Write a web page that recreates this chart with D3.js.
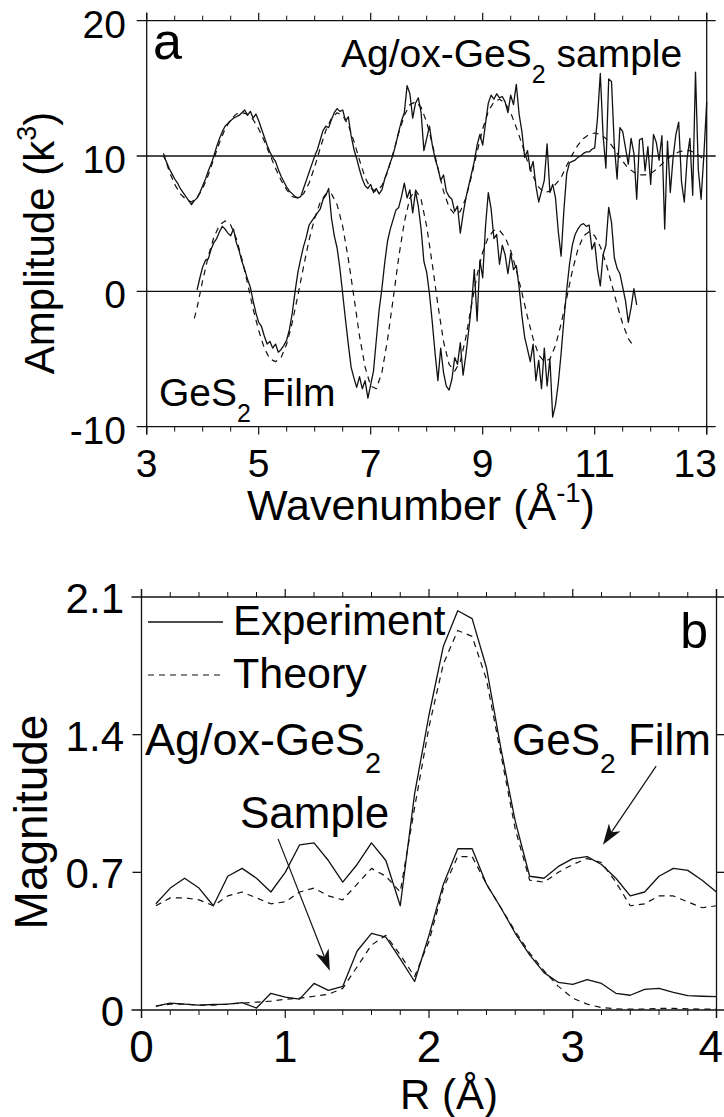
<!DOCTYPE html>
<html>
<head>
<meta charset="utf-8">
<script src="https://cdn.jsdelivr.net/npm/d3@7"></script>
<style>
  body { margin: 0; background: #fff; }
  svg { display: block; }
  text { font-family: "Liberation Sans", Arial, Helvetica, sans-serif; fill: #000; }
</style>
</head>
<body>
<svg id="chart"></svg>
<script>
// ---------- panel a data : chi(k) * k^3 ----------
// Ag/ox-GeS2 sample, experiment (plotted with +10 offset)
var kSampleExp = [3.30,3.35,3.40,3.45,3.50,3.55,3.60,3.65,3.70,3.75,3.80,3.85,3.90,3.95,4.00,4.05,4.10,4.15,4.20,4.25,
  4.30,4.35,4.40,4.45,4.50,4.55,4.60,4.65,4.70,4.75,4.80,4.85,4.90,4.95,5.00,5.05,5.10,5.15,5.20,5.25,
  5.30,5.35,5.40,5.45,5.50,5.55,5.60,5.65,5.70,5.75,5.80,5.85,5.90,5.95,6.00,6.05,6.10,6.15,6.20,6.25,
  6.30,6.35,6.40,6.45,6.50,6.55,6.60,6.65,6.70,6.75,6.80,6.85,6.90,6.95,7.00,7.05,7.10,7.15,7.20,7.25,
  7.30,7.35,7.40,7.45,7.50,7.55,7.60,7.65,7.70,7.75,7.80,7.85,7.90,7.95,8.00,8.05,8.10,8.15,8.20,8.25,
  8.30,8.35,8.40,8.45,8.50,8.55,8.60,8.65,8.70,8.75,8.80,8.85,8.90,8.95,9.00,9.05,9.10,9.15,9.20,9.25,
  9.30,9.35,9.40,9.45,9.50,9.55,9.60,9.65,9.70,9.75,9.80,9.85,9.90,9.95,10.00,10.05,10.10,10.15,10.20,10.25,
  10.30,10.35,10.40,10.45,10.50,10.55,10.60,10.65,10.70,10.75,10.80,10.85,10.90,10.95,11.00,11.05,11.10,11.15,11.20,11.25,
  11.30,11.35,11.40,11.45,11.50,11.55,11.60,11.65,11.70,11.75,11.80,11.85,11.90,11.95,12.00,12.05,12.10,12.15,12.20,12.25,
  12.30,12.35,12.40,12.45,12.50,12.55,12.60,12.65,12.70,12.75,12.80,12.85,12.90,12.95,13.00];
var ampSampleExp = [10.0,9.6,9.1,8.7,8.3,8.0,7.6,7.3,7.0,6.7,6.4,6.7,6.9,7.3,7.8,8.3,8.9,9.4,10.0,10.7,
  11.3,11.8,12.2,12.4,12.6,12.8,12.9,13.0,13.2,13.4,13.0,13.3,12.8,13.1,12.6,12.0,11.4,10.8,10.3,9.9,
  9.6,9.0,8.5,8.1,7.7,7.4,7.2,7.0,6.9,7.0,7.6,8.2,8.8,9.4,10.0,10.5,11.2,11.9,12.2,12.1,
  12.7,13.2,13.5,13.3,13.4,12.6,12.9,11.5,10.5,9.8,9.0,8.3,7.8,7.6,7.9,7.3,7.6,7.2,7.5,8.3,
  8.9,9.5,10.1,10.9,11.8,12.6,13.2,15.2,14.6,12.8,13.9,14.3,13.2,10.4,11.3,12.2,10.8,9.8,9.1,8.2,
  8.6,7.4,7.0,6.8,5.9,6.3,4.3,5.7,6.9,7.8,8.7,9.6,10.8,11.6,10.8,12.4,13.9,14.5,14.2,14.6,
  14.3,14.4,14.0,13.2,14.5,13.8,15.3,13.1,11.8,9.9,10.4,8.9,9.6,7.8,6.6,7.4,8.2,10.9,7.3,7.9,
  6.9,4.4,2.6,6.0,8.7,9.5,9.6,9.7,9.9,10.0,10.2,10.3,10.3,10.5,10.6,12.8,16.1,11.5,9.1,15.7,
  15.5,10.8,8.3,12.1,11.8,10.6,9.4,11.3,10.2,6.8,11.2,11.3,8.9,10.7,7.9,11.6,11.0,9.7,11.5,4.6,
  11.1,7.3,9.9,11.6,12.5,8.1,6.6,9.8,11.3,7.1,16.2,9.0,6.8,10.1,14.0];

// Ag/ox-GeS2 sample, theory (plotted with +10 offset)
var kSampleFit = [3.3,3.4,3.5,3.6,3.7,3.8,3.9,4.0,4.1,4.2,4.3,4.4,4.5,4.6,4.7,4.8,4.9,5.0,5.1,5.2,
  5.3,5.4,5.5,5.6,5.7,5.8,5.9,6.0,6.1,6.2,6.3,6.4,6.5,6.6,6.7,6.8,6.9,7.0,7.1,7.2,
  7.3,7.4,7.5,7.6,7.7,7.8,7.9,8.0,8.1,8.2,8.3,8.4,8.5,8.6,8.7,8.8,8.9,9.0,9.1,9.2,
  9.3,9.4,9.5,9.6,9.7,9.8,9.9,10.0,10.1,10.2,10.3,10.4,10.5,10.6,10.7,10.8,10.9,11.0,11.1,11.2,
  11.3,11.4,11.5,11.6,11.7,11.8,11.9,12.0,12.1,12.2,12.3,12.4,12.5,12.6,12.7,12.8,12.9,13.0];
var ampSampleFit = [10.2,8.9,7.9,7.2,6.8,6.6,6.9,7.6,8.6,9.8,11.0,12.0,12.7,13.1,13.2,13.1,12.7,12.0,11.1,10.1,
  9.1,8.2,7.5,7.0,6.9,7.2,8.0,9.2,10.6,11.9,12.8,13.2,13.0,12.3,11.1,9.7,8.4,7.6,7.4,7.8,
  8.8,10.2,11.7,13.0,13.8,14.0,13.6,12.5,10.9,9.1,7.4,6.2,5.7,5.9,6.9,8.5,10.3,12.0,13.3,14.0,
  14.2,13.9,13.2,12.1,10.9,9.6,8.5,7.7,7.3,7.4,7.9,8.4,9.3,10.1,10.8,11.3,11.6,11.7,11.6,11.3,
  10.8,10.2,9.6,9.1,8.8,8.6,8.6,8.7,9.0,9.4,9.8,10.1,10.3,10.4,10.4,10.2,9.9,9.6];

// GeS2 film, experiment
var kFilmExp = [3.90,3.95,4.00,4.05,4.10,4.15,4.20,4.25,4.30,4.35,4.40,4.45,4.50,4.55,4.60,4.65,4.70,4.75,4.80,4.85,
  4.90,4.95,5.00,5.05,5.10,5.15,5.20,5.25,5.30,5.35,5.40,5.45,5.50,5.55,5.60,5.65,5.70,5.75,5.80,5.85,
  5.90,5.95,6.00,6.05,6.10,6.15,6.20,6.25,6.30,6.35,6.40,6.45,6.50,6.55,6.60,6.65,6.70,6.75,6.80,6.85,
  6.90,6.95,7.00,7.05,7.10,7.15,7.20,7.25,7.30,7.35,7.40,7.45,7.50,7.55,7.60,7.65,7.70,7.75,7.80,7.85,
  7.90,7.95,8.00,8.05,8.10,8.15,8.20,8.25,8.30,8.35,8.40,8.45,8.50,8.55,8.60,8.65,8.70,8.75,8.80,8.85,
  8.90,8.95,9.00,9.05,9.10,9.15,9.20,9.25,9.30,9.35,9.40,9.45,9.50,9.55,9.60,9.65,9.70,9.75,9.80,9.85,
  9.90,9.95,10.00,10.05,10.10,10.15,10.20,10.25,10.30,10.35,10.40,10.45,10.50,10.55,10.60,10.65,10.70,10.75,10.80,10.85,
  10.90,10.95,11.00,11.05,11.10,11.15,11.20,11.25,11.30,11.35,11.40,11.45,11.50,11.55,11.60,11.65,11.70,11.75];
var ampFilmExp = [0.1,1.0,1.8,2.3,2.4,3.1,3.6,3.9,4.4,4.8,4.6,4.3,4.1,4.6,3.6,3.0,2.2,1.6,0.9,0.3,
  -0.7,-1.6,-2.3,-2.6,-3.3,-3.9,-3.7,-4.2,-3.9,-4.5,-4.3,-4.0,-3.6,-2.8,-1.6,0.0,1.4,2.4,3.3,4.0,
  4.9,5.2,5.5,5.8,6.1,6.8,7.1,7.6,5.4,4.1,3.2,1.7,-0.2,-2.1,-3.9,-5.6,-6.4,-7.1,-6.3,-7.2,
  -6.6,-7.9,-6.9,-5.9,-3.6,-1.4,0.2,2.1,3.7,4.6,5.3,6.0,6.2,7.0,8.0,6.9,7.5,5.8,7.4,6.3,
  4.6,2.2,1.4,-0.2,-2.3,-4.6,-6.6,-4.2,-6.0,-7.0,-7.3,-6.5,-4.9,-5.4,-3.8,-6.2,-4.7,-2.9,-1.0,1.6,
  -2.2,2.3,1.0,4.8,7.3,6.1,3.9,4.2,2.0,3.4,2.7,1.3,2.8,1.6,1.9,0.3,-1.8,-3.4,-4.3,-5.2,
  -3.9,-6.6,-5.1,-7.2,-4.2,-7.0,-5.0,-9.3,-8.4,-6.8,-4.6,-2.1,0.1,2.0,3.4,4.2,4.6,4.9,5.0,4.8,
  4.9,3.1,3.6,1.6,0.4,2.7,3.4,6.2,5.1,2.5,1.7,1.3,0.3,-0.7,-2.3,-1.2,0.2,-1.0];

// GeS2 film, theory
var kFilmFit = [3.85,3.9,4.0,4.1,4.2,4.3,4.4,4.5,4.6,4.7,4.8,4.9,5.0,5.1,5.2,5.3,5.4,5.5,5.6,5.7,
  5.8,5.9,6.0,6.1,6.2,6.3,6.4,6.5,6.6,6.7,6.8,6.9,7.0,7.1,7.2,7.3,7.4,7.5,7.6,7.7,
  7.8,7.9,8.0,8.1,8.2,8.3,8.4,8.5,8.6,8.7,8.8,8.9,9.0,9.1,9.2,9.3,9.4,9.5,9.6,9.7,
  9.8,9.9,10.0,10.1,10.2,10.3,10.4,10.5,10.6,10.7,10.8,10.9,11.0,11.1,11.2,11.3,11.4,11.5,11.6,11.7];
var ampFilmFit = [-2.0,-1.2,0.8,2.6,4.0,4.9,5.2,4.9,3.9,2.4,0.6,-1.3,-2.9,-4.2,-5.0,-5.2,-4.9,-3.9,-2.3,-0.3,
  1.8,3.8,5.4,6.6,7.2,7.2,6.4,4.8,2.4,-0.4,-3.3,-5.6,-7.0,-7.2,-6.0,-3.6,-0.6,2.5,5.1,6.9,
  7.5,6.8,4.8,2.0,-1.0,-3.7,-5.4,-5.9,-5.2,-3.4,-1.0,1.2,2.9,4.0,4.5,4.5,4.0,3.0,1.6,-0.1,
  -1.9,-3.5,-4.7,-5.2,-5.0,-4.0,-2.4,-0.5,1.5,3.1,4.1,4.4,4.1,3.3,2.1,0.6,-1.0,-2.4,-3.5,-4.1];

var kTicksMajor = [3, 5, 7, 9, 11, 13];
var ampTicks = [-10, 0, 10, 20];

// ---------- panel b data : |FT| ----------
var rGrid = [0.1,0.2,0.3,0.4,0.5,0.6,0.7,0.8,0.9,1.0,1.1,1.2,1.3,1.4,1.5,1.6,1.7,1.8,1.9,2.0,
  2.1,2.2,2.3,2.4,2.5,2.6,2.7,2.8,2.9,3.0,3.1,3.2,3.3,3.4,3.5,3.6,3.7,3.8,3.9,4.0];
var magFilmExp = [0.54,0.62,0.67,0.62,0.53,0.68,0.72,0.67,0.60,0.70,0.84,0.85,0.76,0.65,0.74,0.85,0.76,0.53,1.10,1.50,
  1.85,2.03,1.99,1.74,1.33,0.96,0.68,0.67,0.73,0.77,0.78,0.74,0.67,0.58,0.60,0.68,0.72,0.71,0.66,0.60];
var magFilmFit = [0.53,0.57,0.57,0.56,0.53,0.58,0.60,0.57,0.54,0.55,0.60,0.62,0.58,0.56,0.64,0.72,0.68,0.60,1.03,1.44,
  1.76,1.93,1.90,1.68,1.30,0.92,0.66,0.65,0.70,0.74,0.77,0.75,0.65,0.53,0.54,0.58,0.58,0.55,0.52,0.53];
var magSampleExp = [0.02,0.035,0.03,0.025,0.028,0.03,0.038,0.01,0.085,0.065,0.055,0.135,0.10,0.12,0.30,0.39,0.37,0.26,0.145,0.38,
  0.64,0.82,0.82,0.64,0.52,0.39,0.28,0.19,0.14,0.13,0.155,0.135,0.085,0.075,0.105,0.11,0.09,0.073,0.07,0.068];
var magSampleFit = [0.02,0.03,0.03,0.025,0.025,0.03,0.035,0.04,0.045,0.055,0.06,0.07,0.08,0.11,0.22,0.33,0.38,0.28,0.17,0.35,
  0.62,0.78,0.78,0.64,0.52,0.40,0.29,0.20,0.12,0.06,0.03,0.012,0.006,0.004,0.005,0.008,0.008,0.006,0.004,0.004];

var rTicksMajor = [0, 1, 2, 3, 4];
var magTicks = [0, 0.7, 1.4, 2.1];

// arrows: [fromR, fromMag, toR, toMag]
var arrowSample = [0.95, 0.87, 1.31, 0.20];
var arrowFilm = [3.58, 1.24, 3.21, 0.84];

// ---------- setup ----------
var W = 724, H = 1117;
var svg = d3.select("#chart").attr("width", W).attr("height", H);
svg.append("rect").attr("width", W).attr("height", H).attr("fill", "#fff");

var ink = "#111";

function zip(xs, ys) {
    return xs.map(function (d, i) { return [d, ys[i]]; });
}

function drawFrame(g, x, y, xMajor, xMinor, yTicks, fullY) {
    var x0 = x.range()[0], x1 = x.range()[1];
    var y0 = y.range()[0], y1 = y.range()[1];

    // horizontal lines at y ticks (full width where asked, short ticks otherwise)
    yTicks.forEach(function (v) {
        var isEdge = (v === y.domain()[0] || v === y.domain()[1]);
        if (isEdge || fullY) {
            g.append("line").attr("x1", x0 - 10).attr("x2", x1 + 9)
                .attr("y1", y(v)).attr("y2", y(v))
                .attr("stroke", ink).attr("stroke-width", 1.3);
        } else {
            g.append("line").attr("x1", x0 - 9).attr("x2", x0)
                .attr("y1", y(v)).attr("y2", y(v)).attr("stroke", ink).attr("stroke-width", 1.3);
            g.append("line").attr("x1", x1).attr("x2", x1 + 9)
                .attr("y1", y(v)).attr("y2", y(v)).attr("stroke", ink).attr("stroke-width", 1.3);
        }
    });

    // vertical frame edges
    [x0, x1].forEach(function (px) {
        g.append("line").attr("x1", px).attr("x2", px)
            .attr("y1", y1 - 8).attr("y2", y0 + 8)
            .attr("stroke", ink).attr("stroke-width", 1.3);
    });

    // minor and major ticks on top and bottom, pointing outward
    xMinor.forEach(function (v) {
        g.append("line").attr("x1", x(v)).attr("x2", x(v)).attr("y1", y1).attr("y2", y1 - 5)
            .attr("stroke", ink).attr("stroke-width", 1);
        g.append("line").attr("x1", x(v)).attr("x2", x(v)).attr("y1", y0).attr("y2", y0 + 5)
            .attr("stroke", ink).attr("stroke-width", 1);
    });
    xMajor.forEach(function (v) {
        g.append("line").attr("x1", x(v)).attr("x2", x(v)).attr("y1", y1).attr("y2", y1 - 8)
            .attr("stroke", ink).attr("stroke-width", 1.2);
        g.append("line").attr("x1", x(v)).attr("x2", x(v)).attr("y1", y0).attr("y2", y0 + 8)
            .attr("stroke", ink).attr("stroke-width", 1.2);
    });
}

function subText(g, px, py, size, parts, anchor) {
    // parts: [text, "sub"/"sup"/null]
    var t = g.append("text").attr("x", px).attr("y", py)
        .attr("font-size", size + "px").attr("text-anchor", anchor || "start");
    var shift = 0;
    parts.forEach(function (p) {
        var target = p[1] === "sub" ? size * 0.4 : (p[1] === "sup" ? -size * 0.42 : 0);
        t.append("tspan").attr("dy", target - shift)
            .attr("font-size", (p[1] ? size * 0.64 : size) + "px")
            .text(p[0]);
        shift = target;
    });
    return t;
}

function arrow(g, x1, y1, x2, y2) {
    var ang = Math.atan2(y2 - y1, x2 - x1);
    var len = 21, half = 7, notch = 6;
    var bx = x2 - len * Math.cos(ang), by = y2 - len * Math.sin(ang);
    var nx = x2 - (len - notch) * Math.cos(ang), ny = y2 - (len - notch) * Math.sin(ang);
    var px = -Math.sin(ang), py = Math.cos(ang);
    g.append("line").attr("x1", x1).attr("y1", y1).attr("x2", nx).attr("y2", ny)
        .attr("stroke", ink).attr("stroke-width", 1.2);
    g.append("path")
        .attr("d", "M" + x2 + "," + y2 + "L" + (bx + px * half) + "," + (by + py * half) +
            "L" + nx + "," + ny + "L" + (bx - px * half) + "," + (by - py * half) + "Z")
        .attr("fill", ink);
}

// ---------- panel a ----------
var xa = d3.scaleLinear().domain([3, 13]).range([146.7, 706.7]);
var ya = d3.scaleLinear().domain([-10, 20]).range([426.6, 20.7]);
var ga = svg.append("g");

drawFrame(ga, xa, ya, kTicksMajor, d3.range(3.5, 13, 0.5).filter(function (v) { return v % 2 !== 1; }), ampTicks, true);

var lineA = d3.line().x(function (d) { return xa(d[0]); }).y(function (d) { return ya(d[1]); });

[[zip(kSampleFit, ampSampleFit), true], [zip(kFilmFit, ampFilmFit), true],
 [zip(kSampleExp, ampSampleExp), false], [zip(kFilmExp, ampFilmExp), false]].forEach(function (s) {
    ga.append("path").datum(s[0])
        .attr("fill", "none").attr("stroke", ink)
        .attr("stroke-width", s[1] ? 1.2 : 1.3)
        .attr("stroke-dasharray", s[1] ? "6,5" : null)
        .attr("stroke-linejoin", "round")
        .attr("d", lineA);
});

// tick labels
ampTicks.forEach(function (v) {
    ga.append("text").attr("x", 126).attr("y", ya(v) + 17)
        .attr("text-anchor", "end").attr("font-size", "39px").text(v);
});
kTicksMajor.forEach(function (v) {
    var last = v === 13;
    ga.append("text").attr("x", last ? 717 : xa(v)).attr("y", 477)
        .attr("text-anchor", last ? "end" : "middle").attr("font-size", "39px").text(v);
});

// axis titles
subText(ga, 421, 520, 43, [["Wavenumber (Å", null], ["-1", "sup"], [")", null]], "middle");
var ta = ga.append("g").attr("transform", "translate(54,243) rotate(-90)");
subText(ta, 0, 0, 42, [["Amplitude (k", null], ["3", "sup"], [")", null]], "middle");

// annotations
ga.append("text").attr("x", 153).attr("y", 59).attr("font-size", "52px").text("a");
subText(ga, 341, 67, 39, [["Ag/ox-GeS", null], ["2", "sub"], [" sample", null]]);
subText(ga, 159, 406, 39, [["GeS", null], ["2", "sub"], [" Film", null]]);

// ---------- panel b ----------
var xb = d3.scaleLinear().domain([0, 4]).range([141.5, 716.5]);
var yb = d3.scaleLinear().domain([0, 2.1]).range([1010, 597]);
var gb = svg.append("g");

drawFrame(gb, xb, yb, rTicksMajor, d3.range(0.2, 4, 0.2).filter(function (v) { return Math.abs(v - Math.round(v)) > 0.01; }), magTicks, false);

var lineB = d3.line().x(function (d) { return xb(d[0]); }).y(function (d) { return yb(d[1]); });

[[magFilmFit, true], [magSampleFit, true], [magFilmExp, false], [magSampleExp, false]].forEach(function (s) {
    gb.append("path").datum(zip(rGrid, s[0]))
        .attr("fill", "none").attr("stroke", ink)
        .attr("stroke-width", s[1] ? 1.2 : 1.3)
        .attr("stroke-dasharray", s[1] ? "6,5" : null)
        .attr("stroke-linejoin", "round")
        .attr("d", lineB);
});

magTicks.forEach(function (v) {
    gb.append("text").attr("x", 124).attr("y", yb(v) + 16)
        .attr("text-anchor", "end").attr("font-size", "42px").text(v);
});
rTicksMajor.forEach(function (v) {
    var last = v === 4;
    gb.append("text").attr("x", last ? 723 : xb(v)).attr("y", 1062)
        .attr("text-anchor", last ? "end" : "middle").attr("font-size", "44px").text(v);
});

gb.append("text").attr("x", 449).attr("y", 1109).attr("text-anchor", "middle")
    .attr("font-size", "42px").text("R (Å)");
gb.append("text").attr("transform", "translate(47,822) rotate(-90)")
    .attr("text-anchor", "middle").attr("font-size", "46px").text("Magnitude");

// legend
gb.append("line").attr("x1", 148).attr("x2", 223).attr("y1", 622).attr("y2", 622)
    .attr("stroke", ink).attr("stroke-width", 1.3);
gb.append("text").attr("x", 233).attr("y", 635).attr("font-size", "42px").text("Experiment");
gb.append("line").attr("x1", 148).attr("x2", 225).attr("y1", 675).attr("y2", 675)
    .attr("stroke", ink).attr("stroke-width", 1.2).attr("stroke-dasharray", "6,5");
gb.append("text").attr("x", 233).attr("y", 688).attr("font-size", "43px").text("Theory");

gb.append("text").attr("x", 708).attr("y", 648).attr("text-anchor", "end")
    .attr("font-size", "50px").text("b");

subText(gb, 145, 755, 45, [["Ag/ox-GeS", null], ["2", "sub"]]);
gb.append("text").attr("x", 240).attr("y", 828).attr("font-size", "44px").text("Sample");
subText(gb, 512, 755, 44, [["GeS", null], ["2", "sub"], [" Film", null]]);

arrow(gb, xb(arrowSample[0]), yb(arrowSample[1]), xb(arrowSample[2]), yb(arrowSample[3]));
arrow(gb, xb(arrowFilm[0]), yb(arrowFilm[1]), xb(arrowFilm[2]), yb(arrowFilm[3]));
</script>
</body>
</html>
